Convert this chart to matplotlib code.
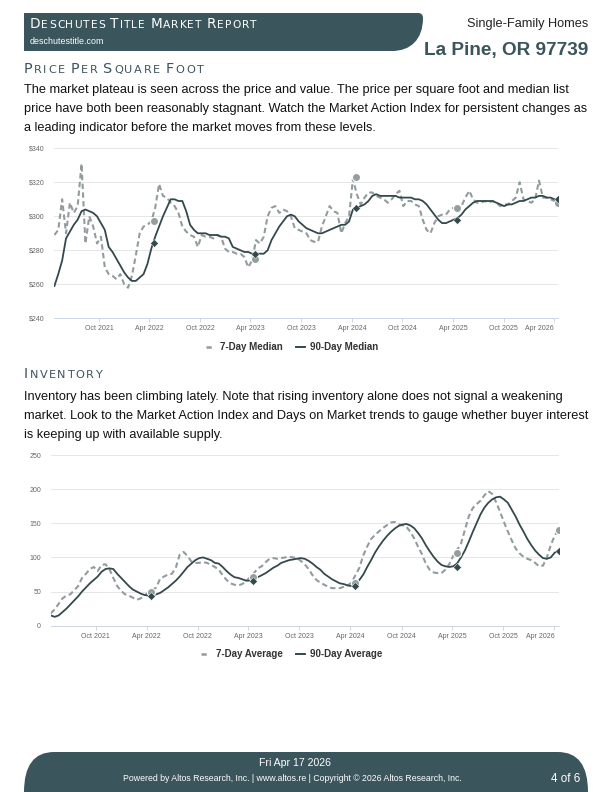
import matplotlib
matplotlib.use('Agg')
import matplotlib.pyplot as plt
from matplotlib.patches import PathPatch
from matplotlib.path import Path
from matplotlib.lines import Line2D
import pandas as pd

# --- data -------------------------------------------------------------
# biweekly points, Apr 2021 -> report date
dates = pd.date_range(end='2026-04-17', periods=131, freq='14D')

ppsf_7day = [289, 292, 310, 290, 308, 302, 306, 331, 284, 300,
             294, 284, 288, 270, 266, 265, 263, 266, 260, 258,
             265, 277, 290, 294, 295, 297, 305, 319, 312, 311,
             308, 306, 302, 294, 291, 289, 288, 282, 289, 288,
             288, 287, 289, 288, 281, 279, 279, 278, 278, 276,
             270, 274, 286, 284, 288, 300, 305, 306, 302, 304,
             303, 300, 293, 292, 291, 290, 286, 285, 285, 294,
             300, 306, 303, 302, 290, 296, 300, 322, 313, 307,
             311, 314, 314, 312, 311, 310, 308, 310, 313, 315,
             306, 309, 309, 307, 306, 298, 292, 290, 296, 300,
             301, 301, 304, 305, 302, 306, 311, 315, 310, 308,
             308, 309, 308, 309, 308, 306, 307, 307, 309, 311,
             320, 310, 309, 308, 310, 321, 311, 311, 310, 309,
             308]

ppsf_90day = [259, 266, 274, 287, 291, 295, 298, 303, 304, 303,
              302, 300, 296, 292, 282, 279, 275, 271, 267, 264,
              262, 262, 264, 266, 272, 281, 288, 294, 300, 305,
              310, 310, 309, 309, 303, 295, 292, 290, 290, 290,
              289, 289, 289, 288, 288, 287, 282, 281, 280, 279,
              279, 278, 278, 278, 278, 280, 286, 290, 294, 297,
              300, 301, 300, 297, 295, 293, 292, 291, 290, 290,
              291, 292, 293, 294, 295, 295, 297, 304, 305, 306,
              307, 309, 312, 313, 312, 312, 312, 312, 312, 311,
              311, 311, 311, 310, 310, 309, 307, 304, 301, 298,
              296, 296, 297, 298, 299, 301, 304, 306, 308, 309,
              309, 309, 309, 309, 308, 307, 306, 307, 307, 308,
              309, 309, 310, 311, 311, 312, 312, 311, 311, 310,
              309]

inv_7day = [18, 24, 32, 40, 44, 46, 52, 58, 70, 76,
            83, 86, 80, 89, 90, 83, 70, 58, 51, 46,
            44, 41, 38, 40, 44, 49, 52, 56, 69, 72,
            75, 76, 85, 104, 108, 102, 94, 92, 92, 93,
            92, 89, 86, 82, 74, 67, 62, 60, 59, 61,
            65, 71, 77, 84, 87, 93, 98, 99, 98, 99,
            100, 101, 100, 99, 95, 90, 83, 74, 67, 63,
            60, 57, 55, 55, 55, 57, 59, 63, 74, 85,
            103, 116, 127, 133, 138, 143, 147, 151, 152, 149,
            147, 145, 138, 128, 116, 105, 91, 82, 78, 77,
            77, 82, 90, 102, 111, 120, 140, 160, 172, 178,
            183, 191, 197, 193, 181, 167, 152, 138, 125, 113,
            106, 101, 98, 96, 92, 87, 88, 100, 118, 132,
            141]

inv_90day = [15, 13, 15, 20, 25, 31, 37, 43, 50, 56,
             62, 67, 72, 79, 83, 84, 83, 76, 70, 64,
             58, 53, 50, 47, 45, 44, 44, 46, 48, 52,
             56, 61, 66, 72, 79, 86, 91, 96, 99, 100,
             98, 96, 92, 91, 86, 80, 75, 71, 70, 68,
             66, 66, 67, 71, 74, 77, 81, 85, 88, 92,
             94, 96, 97, 98, 99, 98, 95, 91, 86, 82,
             76, 72, 68, 65, 62, 61, 59, 58, 60, 67,
             75, 86, 96, 107, 116, 124, 131, 137, 142, 146,
             148, 149, 147, 143, 136, 128, 118, 109, 101, 94,
             89, 87, 86, 87, 91, 100, 110, 123, 137, 150,
             163, 173, 180, 185, 188, 189, 185, 180, 170, 160,
             148, 138, 127, 118, 110, 104, 99, 98, 100, 107,
             110]

# year-over-year markers (Apr 17 each year)
mark_dates = pd.to_datetime(['2022-04-17', '2023-04-17', '2024-04-17',
                             '2025-04-17', '2026-04-17'])
ppsf_mark7 = [297, 275, 323, 305, 308]
ppsf_mark90 = [284, 278, 305, 298, 310]
inv_mark7 = [50, 71, 63, 106, 140]
inv_mark90 = [44, 66, 58, 86, 109]

xtick_dates = pd.to_datetime(['2021-10-01', '2022-04-01', '2022-10-01', '2023-04-01',
                              '2023-10-01', '2024-04-01', '2024-10-01', '2025-04-01',
                              '2025-10-01', '2026-04-01'])
xtick_labels = ['Oct 2021', 'Apr 2022', 'Oct 2022', 'Apr 2023', 'Oct 2023',
                'Apr 2024', 'Oct 2024', 'Apr 2025', 'Oct 2025', 'Apr 2026']

ppsf_yticks = [240, 260, 280, 300, 320, 340]
inv_yticks = [0, 50, 100, 150, 200, 250]

# --- figure -----------------------------------------------------------
W, H = 612, 792
plt.rcParams['font.family'] = ['Liberation Sans', 'DejaVu Sans']
fig = plt.figure(figsize=(W / 100, H / 100), dpi=100)

TEAL = '#3b555c'
DARK = '#33494d'
GREY = '#939c9d'

bg = fig.add_axes([0, 0, 1, 1])
bg.set_xlim(0, W)
bg.set_ylim(H, 0)
bg.axis('off')

# header band
hdr = Path([(24, 13), (418, 13), (423, 13), (423, 18),
            (423, 40), (410, 51), (392, 51), (24, 51), (24, 13)],
           [Path.MOVETO, Path.LINETO, Path.CURVE3, Path.CURVE3,
            Path.CURVE4, Path.CURVE4, Path.CURVE4, Path.LINETO, Path.CLOSEPOLY])
bg.add_patch(PathPatch(hdr, fc=TEAL, ec='none'))

# footer band
ftr = Path([(24, 792), (24, 752), (54, 752), (558, 752),
            (588, 752), (588, 792), (24, 792)],
           [Path.MOVETO, Path.CURVE3, Path.CURVE3, Path.LINETO,
            Path.CURVE3, Path.CURVE3, Path.CLOSEPOLY])
bg.add_patch(PathPatch(ftr, fc=TEAL, ec='none'))

renderer = fig.canvas.get_renderer()


def smallcaps(x, y, text, size, color, track, ratio=0.78):
    # fake small caps, letter by letter with a little extra tracking
    for word in text.split(' '):
        for k, ch in enumerate(word):
            s = size if (k == 0 and ch.isupper()) else size * ratio
            t = bg.text(x, y, ch.upper(), fontsize=s, color=color, va='baseline',
                        family='DejaVu Sans')
            x += t.get_window_extent(renderer).width + track
        x += size * 0.45


smallcaps(30, 28, 'Deschutes Title Market Report', 9.8, 'white', 1.0)
bg.text(30, 44, 'deschutestitle.com', fontsize=6.4, color='white', va='baseline')
bg.text(588, 27, 'Single-Family Homes', fontsize=9.2, color='#222222', ha='right', va='baseline')
bg.text(588, 55, 'La Pine, OR 97739', fontsize=13.7, color=TEAL, weight='bold',
        ha='right', va='baseline')

smallcaps(24, 73, 'Price Per Square Foot', 10.4, TEAL, 1.5)
para1 = ['The market plateau is seen across the price and value. The price per square foot and median list',
         'price have both been reasonably stagnant. Watch the Market Action Index for persistent changes as',
         'a leading indicator before the market moves from these levels.']
for i, line in enumerate(para1):
    bg.text(24, 93 + i * 19, line, fontsize=9.2, color='#111111', va='baseline')

smallcaps(24, 378, 'Inventory', 10.4, TEAL, 1.5)
para2 = ['Inventory has been climbing lately. Note that rising inventory alone does not signal a weakening',
         'market. Look to the Market Action Index and Days on Market trends to gauge whether buyer interest',
         'is keeping up with available supply.']
for i, line in enumerate(para2):
    bg.text(24, 400 + i * 19, line, fontsize=9.2, color='#111111', va='baseline')

# footer text
bg.text(295, 766, 'Fri Apr 17 2026', fontsize=7.6, color='white', ha='center', va='baseline')
bg.text(292, 781, 'Powered by Altos Research, Inc. | www.altos.re | Copyright \u00a9 2026 Altos Research, Inc.',
        fontsize=6.3, color='white', ha='center', va='baseline')
bg.text(580, 782, '4 of 6', fontsize=8.4, color='white', ha='right', va='baseline')


def chart(left, right, top, bottom, s7, s90, m7, m90, yticks, fmt, names, legend_y):
    ax = fig.add_axes([left / W, 1 - bottom / H, (right - left) / W, (bottom - top) / H])
    ax.plot(dates, s7, color=GREY, lw=1.5, ls=(0, (2.6, 1.6)), zorder=2)
    ax.plot(dates, s90, color=DARK, lw=1.3, zorder=3)
    ax.scatter(mark_dates, m7, s=34, color='#959e9e', edgecolor='white', lw=0.8, zorder=4)
    ax.scatter(mark_dates, m90, s=16, marker='D', color=DARK, edgecolor='white', lw=0.3, zorder=5)

    ax.set_xlim(dates[0], dates[-1])
    ax.set_ylim(yticks[0], yticks[-1])
    ax.set_yticks(yticks)
    ax.set_yticklabels([fmt.format(v) for v in yticks])
    ax.set_xticks(xtick_dates)
    ax.set_xticklabels(xtick_labels)
    ax.get_xticklabels()[-1].set_horizontalalignment('right')

    ax.grid(axis='y', color='#e6e6e6', lw=0.7)
    ax.set_axisbelow(True)
    for s in ['top', 'right', 'left']:
        ax.spines[s].set_visible(False)
    ax.spines['bottom'].set_color('#ccd6eb')
    ax.spines['bottom'].set_linewidth(0.7)
    ax.tick_params(axis='y', length=0, pad=7, labelsize=5, labelcolor='#666666')
    ax.tick_params(axis='x', length=3, width=0.7, color='#ccd6eb', pad=2,
                   labelsize=5, labelcolor='#666666')
    ax.set_facecolor('none')

    # legend symbols: a single short dash, and a short solid line
    handles = [Line2D([], [], color=GREY, lw=1.8, ls=(0.3, (2.4, 6))),
               Line2D([], [], color=DARK, lw=1.4)]
    leg = ax.legend(handles, names, loc='center', bbox_to_anchor=(292 / W, 1 - legend_y / H),
                    bbox_transform=fig.transFigure, ncol=2, frameon=False,
                    handlelength=1.0, handletextpad=0.5, columnspacing=1.3,
                    prop={'size': 7, 'weight': 'bold'})
    for t in leg.get_texts():
        t.set_color('#333333')
    return ax


chart(54.4, 558.4, 148.3, 318.3, ppsf_7day, ppsf_90day, ppsf_mark7, ppsf_mark90,
      ppsf_yticks, '${}', ['7-Day Median', '90-Day Median'], 347)
chart(50.8, 558.6, 455.0, 625.7, inv_7day, inv_90day, inv_mark7, inv_mark90,
      inv_yticks, '{}', ['7-Day Average', '90-Day Average'], 654)

fig.savefig('out.png', dpi=100)
